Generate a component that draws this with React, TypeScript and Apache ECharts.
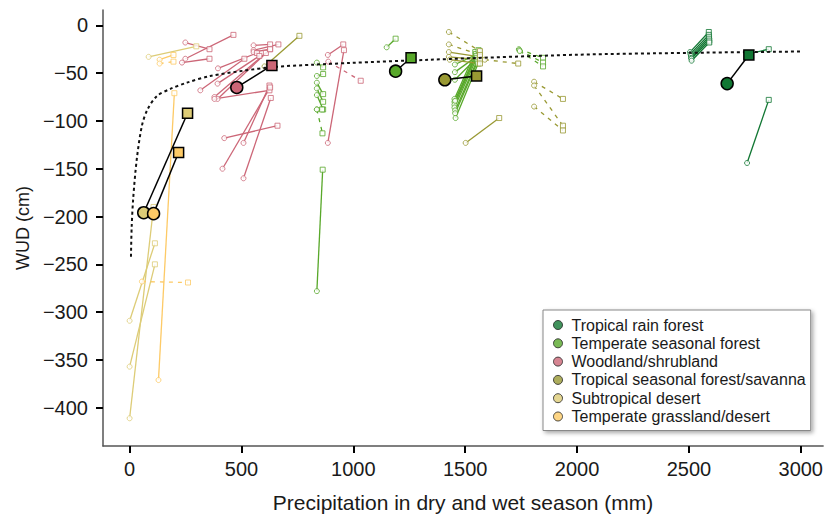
import React, { useEffect, useRef } from "react";
import * as echarts from "echarts";

// ---- categories ----
const groupNames = [
  "Tropical rain forest",
  "Temperate seasonal forest",
  "Woodland/shrubland",
  "Tropical seasonal forest/savanna",
  "Subtropical desert",
  "Temperate grassland/desert",
];

// ---- tick labels ----
const xTicks = [0, 500, 1000, 1500, 2000, 2500, 3000];
const yTicks = [0, -50, -100, -150, -200, -250, -300, -350, -400];

// ---- segments: [dry precipitation, dry WUD, wet precipitation, wet WUD] ----
const rainForestSolid = [
  [2505, -28, 2589, -7],
  [2507, -30, 2589, -10],
  [2509, -32, 2590, -12],
  [2510, -34, 2590, -14],
  [2511, -35, 2591, -16],
  [2512, -37, 2591, -18],
  [2765, -30, 2857, -25],
  [2760, -144, 2857, -78],
];
const rainForestDashed: number[][] = [];
const rainForestMean = [2671, -61, 2768, -31];

const seasonalForestSolid = [
  [837, -39, 865, -44],
  [837, -53, 865, -51],
  [837, -60, 865, -72],
  [837, -66, 865, -80],
  [837, -73, 865, -88],
  [837, -88, 860, -88],
  [837, -278, 863, -151],
  [1149, -23, 1189, -14],
  [1454, -41, 1548, -31],
  [1454, -49, 1548, -33],
  [1454, -57, 1548, -35],
  [1452, -77, 1545, -28],
  [1452, -80, 1548, -30],
  [1452, -83, 1550, -32],
  [1452, -86, 1552, -34],
  [1455, -89, 1555, -36],
  [1455, -92, 1555, -38],
  [1457, -97, 1558, -40],
  [1455, -79, 1560, -26],
];
const seasonalForestDashed = [
  [837, -88, 862, -113],
  [1740, -25, 1848, -34],
  [1742, -26, 1848, -39],
  [1744, -27, 1848, -43],
];
const seasonalForestMean = [1189, -48, 1258, -34];

const woodlandSolid = [
  [249, -35, 464, -10],
  [234, -39, 357, -35],
  [249, -18, 357, -25],
  [316, -68, 513, -35],
  [395, -45, 569, -29],
  [393, -61, 580, -32],
  [379, -75, 609, -29],
  [393, -77, 628, -25],
  [379, -77, 625, -68],
  [554, -21, 628, -20],
  [554, -26, 665, -20],
  [554, -28, 628, -25],
  [423, -118, 661, -105],
  [509, -123, 625, -63],
  [415, -150, 628, -65],
  [509, -160, 631, -76],
  [886, -31, 955, -20],
  [886, -123, 958, -26],
];
const woodlandDashed = [[888, -38, 1033, -58]];
const woodlandMean = [479, -65, 636, -42];

const savannaSolid = [
  [603, -43, 759, -11],
  [1427, -28, 1566, -33],
  [1427, -33, 1566, -36],
  [1431, -36, 1566, -40],
  [1502, -123, 1652, -97],
];
const savannaDashed = [
  [1427, -7, 1566, -27],
  [1427, -20, 1566, -31],
  [1588, -36, 1737, -40],
  [1808, -59, 1937, -77],
  [1808, -63, 1937, -105],
  [1808, -85, 1937, -110],
];
const savannaMean = [1409, -57, 1551, -53];

const subtropicalDesertSolid = [
  [85, -33, 298, -22],
  [0, -309, 113, -228],
  [0, -357, 113, -250],
  [0, -411, 107, -190],
];
const subtropicalDesertDashed: number[][] = [];
const subtropicalDesertMean = [63, -196, 259, -92];

const grasslandSolid = [
  [134, -36, 196, -31],
  [129, -371, 200, -71],
];
const grasslandDashed = [
  [134, -40, 196, -38],
  [55, -268, 261, -269],
];
const grasslandMean = [107, -197, 219, -133];

// ---- fitted curve ----
const fitCurve = [
  [6, -242], [9, -212], [16, -181], [32, -140], [55, -105], [80, -88],
  [122, -74], [182, -66.5], [256, -60], [360, -53], [509, -47.5],
  [643, -43.6], [821, -41.2], [977, -39.5], [1343, -36], [1997, -30.8],
  [2500, -28.8], [3008, -27.4],
];

const colors = ["#117733", "#58a82a", "#cc6677", "#999933", "#ddcc77", "#fdca66"];

const FONT = "'Liberation Sans', Arial, sans-serif";

function groupSeries(
  name: string,
  color: string,
  solid: number[][],
  dashed: number[][],
  mean: number[]
) {
  const all = solid.concat(dashed);
  return [
    {
      type: "scatter",
      name,
      data: all.map((s) => [s[0], s[1]]),
      symbol: "circle",
      symbolSize: 5,
      itemStyle: { color: "#fff", borderColor: color, borderWidth: 1 },
      z: 3,
      silent: true,
    },
    {
      type: "scatter",
      name,
      data: all.map((s) => [s[2], s[3]]),
      symbol: "rect",
      symbolSize: 5,
      itemStyle: { color: "#fff", borderColor: color, borderWidth: 1 },
      z: 3,
      silent: true,
    },
    {
      type: "lines",
      name,
      coordinateSystem: "cartesian2d",
      data: solid.map((s) => ({ coords: [[s[0], s[1]], [s[2], s[3]]] })),
      lineStyle: { color, width: 1.3, opacity: 1 },
      z: 2,
      silent: true,
    },
    {
      type: "lines",
      name,
      coordinateSystem: "cartesian2d",
      data: dashed.map((s) => ({ coords: [[s[0], s[1]], [s[2], s[3]]] })),
      lineStyle: { color, width: 1.3, opacity: 1, type: [4, 5] },
      z: 2,
      silent: true,
    },
    {
      type: "line",
      name,
      data: [
        { value: [mean[0], mean[1]], symbol: "circle", symbolSize: 12 },
        { value: [mean[2], mean[3]], symbol: "rect", symbolSize: 10 },
      ],
      lineStyle: { color: "#000", width: 1.5 },
      itemStyle: { color, borderColor: "#000", borderWidth: 1.5 },
      showSymbol: true,
      z: 6,
      silent: true,
    },
  ];
}

const minus = (v: number) => (v < 0 ? "\u2212" + Math.abs(v) : String(v));

export default function App() {
  const ref = useRef<HTMLDivElement>(null);
  useEffect(() => {
    if (!ref.current) return;
    const chart = echarts.init(ref.current, null, { renderer: "svg" });
    const option: any = {
      animation: false,
      textStyle: { fontFamily: FONT },
      grid: { left: 103, right: 2, top: 10, bottom: 70 },
      xAxis: {
        type: "value",
        min: -119,
        max: 3100,
        name: "Precipitation in dry and wet season (mm)",
        nameLocation: "middle",
        nameGap: 46,
        nameTextStyle: { fontSize: 21, color: "#1a1a1a", fontFamily: FONT },
        axisLine: { onZero: false, lineStyle: { color: "#555", width: 1.5 } },
        axisTick: {
          customValues: xTicks,
          length: 7,
          lineStyle: { color: "#000", width: 2 },
        },
        axisLabel: {
          customValues: xTicks,
          fontSize: 20,
          color: "#1a1a1a",
          margin: 13,
          fontFamily: FONT,
          formatter: (v: number) => String(v),
        },
        splitLine: { show: false },
      },
      yAxis: {
        type: "value",
        min: -440,
        max: 16,
        name: "WUD (cm)",
        nameLocation: "middle",
        nameGap: 66,
        nameRotate: 90,
        nameTextStyle: { fontSize: 18, color: "#1a1a1a", fontFamily: FONT },
        axisLine: { onZero: false, lineStyle: { color: "#555", width: 1.5 } },
        axisTick: {
          customValues: yTicks,
          length: 7,
          lineStyle: { color: "#000", width: 2 },
        },
        axisLabel: {
          customValues: yTicks,
          fontSize: 20,
          color: "#1a1a1a",
          margin: 15,
          fontFamily: FONT,
          formatter: (v: number) => minus(v),
        },
        splitLine: { show: false },
      },
      legend: {
        orient: "vertical",
        left: 543,
        top: 310,
        padding: [6, 5, 5, 10],
        itemWidth: 9,
        itemHeight: 9,
        itemGap: 0.3,
        selectedMode: false,
        backgroundColor: "#fff",
        borderColor: "#888",
        borderWidth: 1,
        borderRadius: 0,
        shadowColor: "rgba(0,0,0,0.35)",
        shadowBlur: 4,
        shadowOffsetX: 2,
        shadowOffsetY: 2,
        textStyle: {
          fontSize: 16,
          lineHeight: 18,
          color: "#1a1a1a",
          fontFamily: FONT,
          padding: [0, 0, 0, 4],
        },
        data: groupNames.map((n, i) => ({
          name: n,
          icon: "circle",
          itemStyle: { color: colors[i], borderColor: "#222", borderWidth: 1 },
        })),
      },
      series: [
        ...groupSeries(groupNames[0], colors[0], rainForestSolid, rainForestDashed, rainForestMean),
        ...groupSeries(groupNames[1], colors[1], seasonalForestSolid, seasonalForestDashed, seasonalForestMean),
        ...groupSeries(groupNames[2], colors[2], woodlandSolid, woodlandDashed, woodlandMean),
        ...groupSeries(groupNames[3], colors[3], savannaSolid, savannaDashed, savannaMean),
        ...groupSeries(groupNames[4], colors[4], subtropicalDesertSolid, subtropicalDesertDashed, subtropicalDesertMean),
        ...groupSeries(groupNames[5], colors[5], grasslandSolid, grasslandDashed, grasslandMean),
        {
          type: "line",
          name: "fit",
          data: fitCurve,
          smooth: 0.3,
          showSymbol: false,
          symbol: "none",
          lineStyle: { color: "#111", width: 2, type: [3, 3] },
          z: 4,
          silent: true,
        },
      ],
    };
    chart.setOption(option);
    return () => chart.dispose();
  }, []);
  return (
    <div
      ref={ref}
      style={{ position: "absolute", left: 0, top: 0, width: 826, height: 518 }}
    />
  );
}
